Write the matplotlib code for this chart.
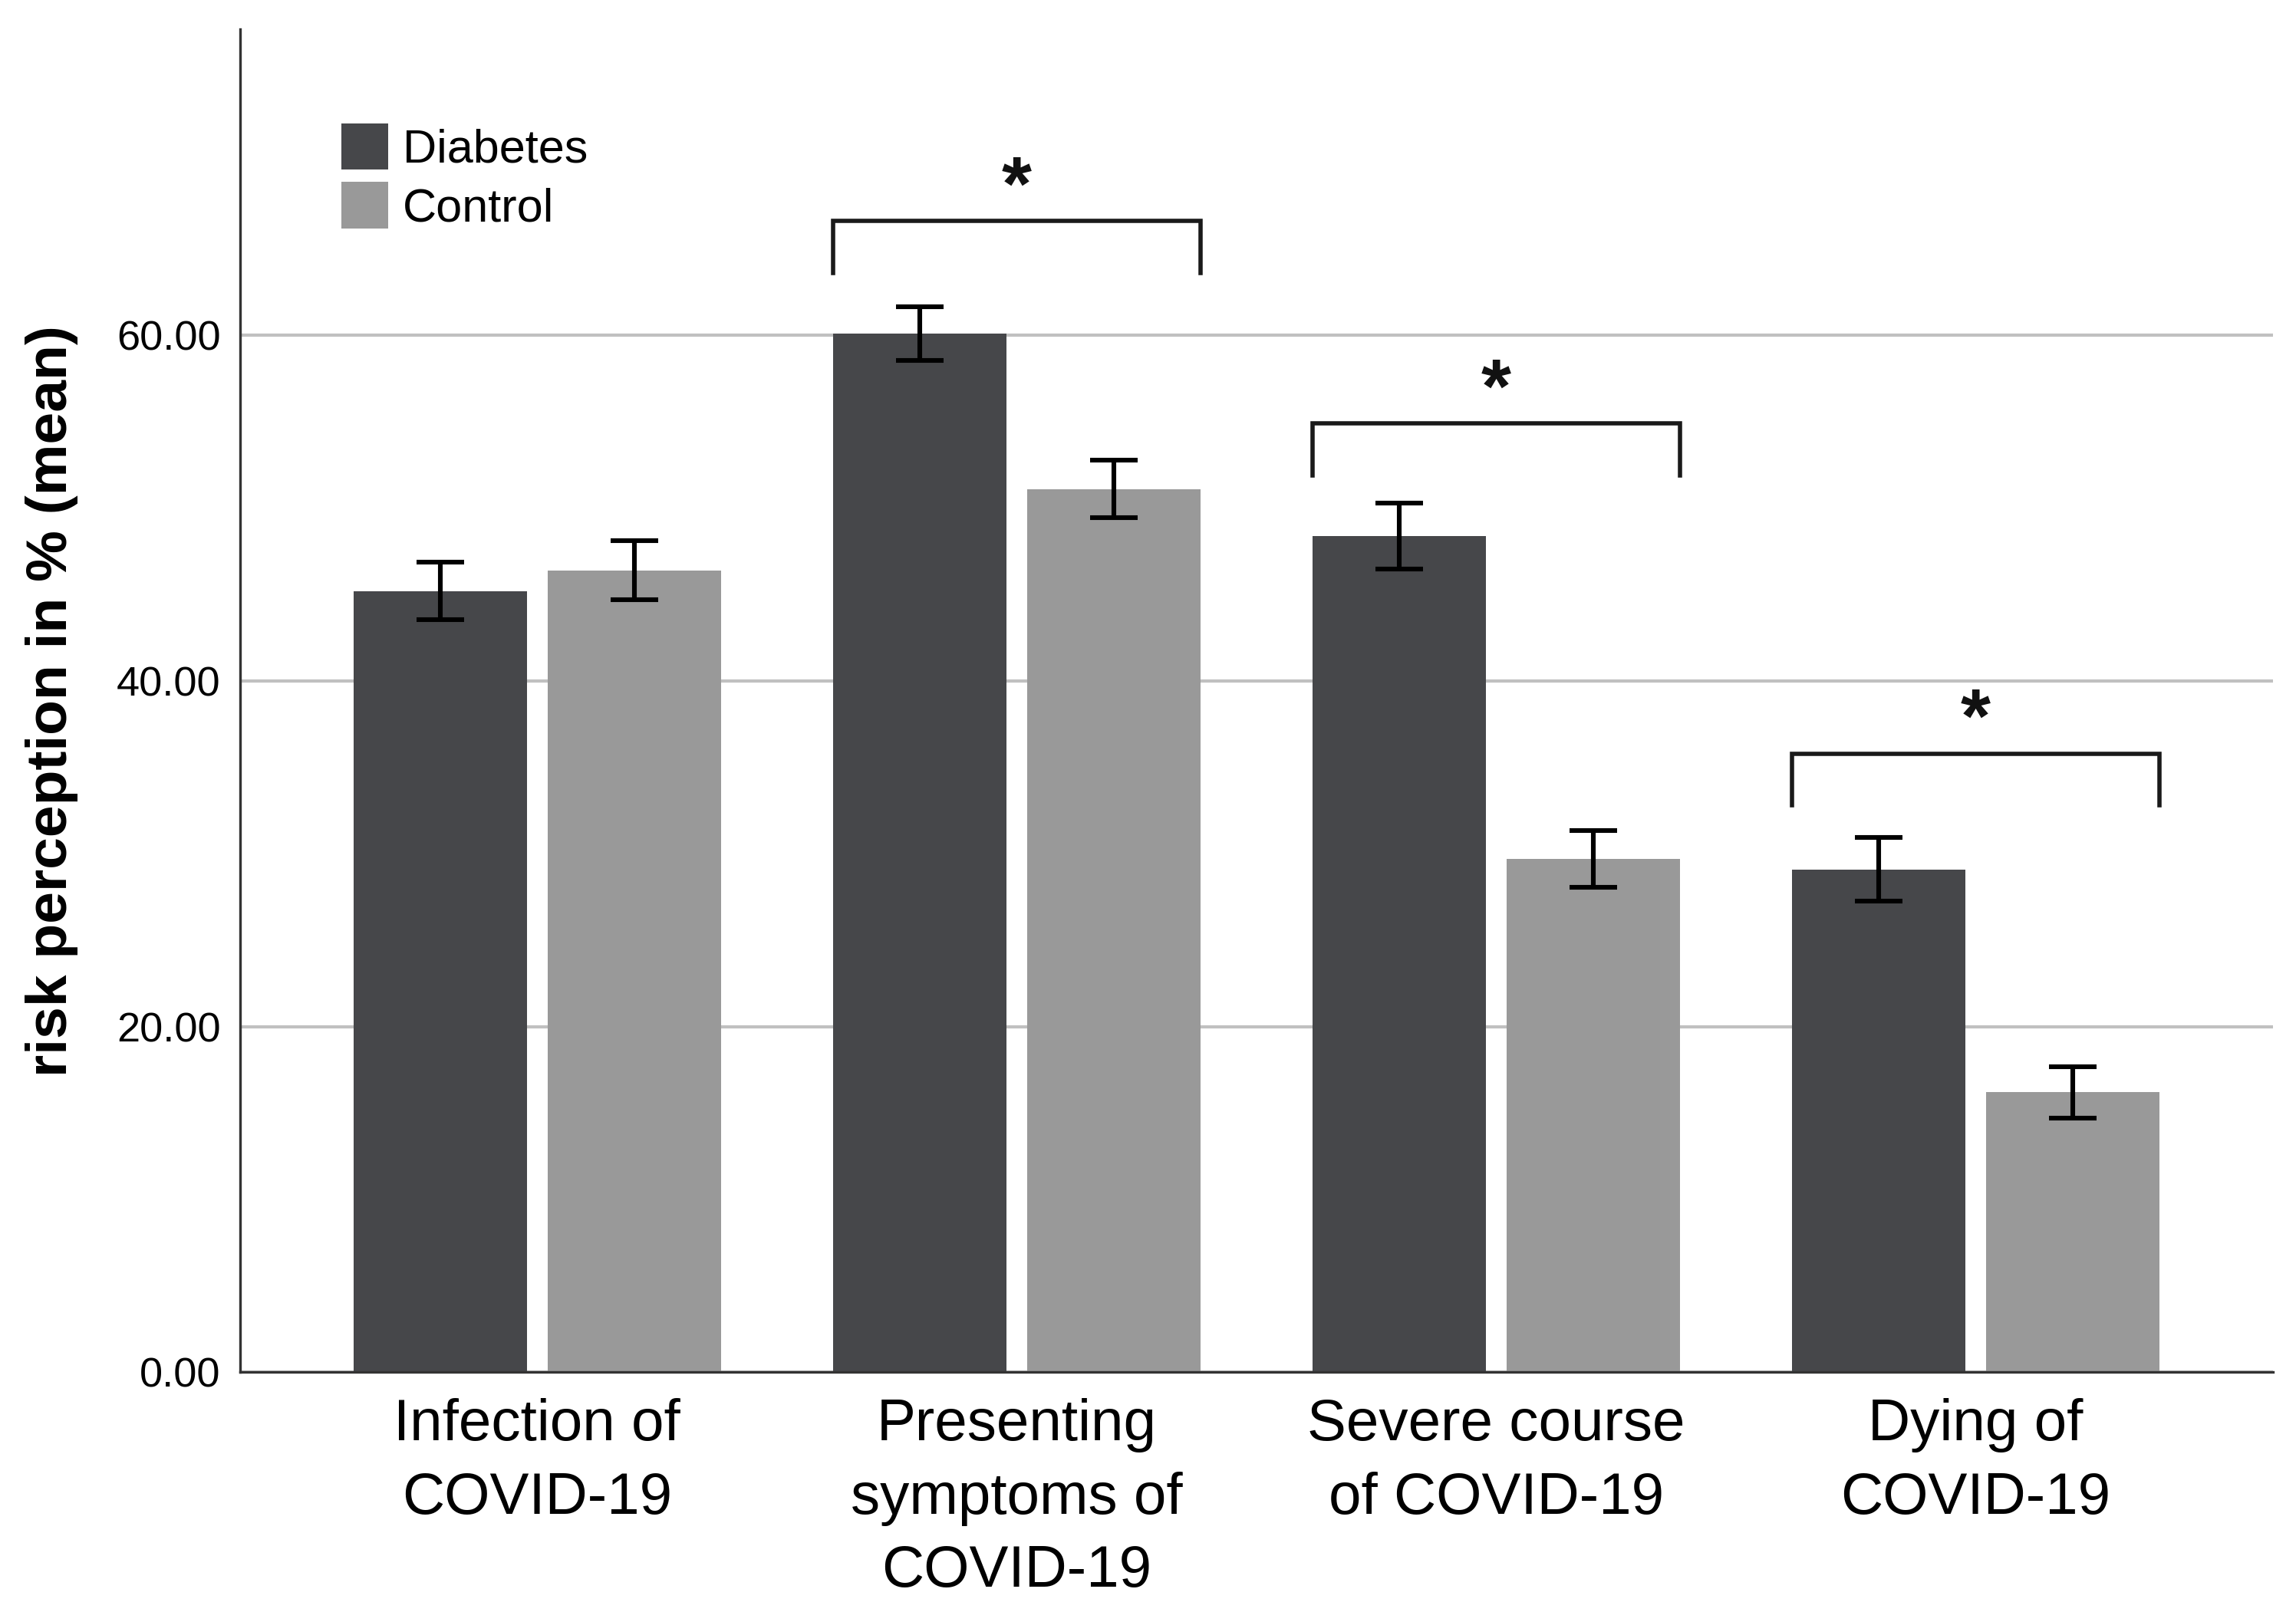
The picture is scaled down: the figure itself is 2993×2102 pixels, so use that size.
import matplotlib
matplotlib.use('Agg')
import matplotlib.pyplot as plt
import numpy as np

plt.rcParams['font.family'] = ['Liberation Sans', 'DejaVu Sans']

categories = ['Infection of\nCOVID-19', 'Presenting\nsymptoms of\nCOVID-19',
              'Severe course\nof COVID-19', 'Dying of\nCOVID-19']
diabetes_means = [45.2, 60.1, 48.4, 29.1]
control_means = [46.4, 51.1, 29.7, 16.2]
diabetes_err = [1.66, 1.57, 1.91, 1.83]
control_err = [1.70, 1.66, 1.66, 1.49]
yticks = [0, 20, 40, 60]

# significance brackets: group index, bracket top (mean %)
sig_groups = [1, 2, 3]
sig_tops = [66.6, 54.9, 35.8]

dark = '#46474a'
light = '#999999'

fig = plt.figure(figsize=(2993 / 200, 2102 / 200), dpi=200)
ax = fig.add_axes([0.1045, 0.1487, 0.8855, 0.8331])

x = np.arange(len(categories))
width = 0.362
off = 0.2025

ax.bar(x - off, diabetes_means, width, color=dark, label='Diabetes', zorder=2)
ax.bar(x + off, control_means, width, color=light, label='Control', zorder=2)
ax.errorbar(x - off, diabetes_means, yerr=diabetes_err, fmt='none', ecolor='black',
            elinewidth=2.2, capsize=11, capthick=2.2, zorder=3)
ax.errorbar(x + off, control_means, yerr=control_err, fmt='none', ecolor='black',
            elinewidth=2.2, capsize=11, capthick=2.2, zorder=3)

for g, top in zip(sig_groups, sig_tops):
    x0 = g - off - width / 2
    x1 = g + off + width / 2
    ax.plot([x0, x0, x1, x1], [top - 3.0, top, top, top - 3.0], color='#1a1a1a',
            lw=2.0, solid_joinstyle='miter', zorder=3)
    ax.text(g, top + 1.8, '*', ha='center', va='center', fontsize=36,
            fontweight='bold', color='#111111')

ax.set_xlim(-0.62, 3.62)
ax.set_ylim(0, 77.7)
ax.set_yticks(yticks)
ax.set_yticklabels([f'{v:.2f}' for v in yticks])
ax.yaxis.grid(True, color='#c0c0c0', lw=1.5, zorder=0)
ax.set_axisbelow(True)

ax.set_xticks(x)
ax.set_xticklabels(categories, fontsize=27.5, linespacing=1.45)
ax.tick_params(axis='x', length=0, pad=12)
ax.tick_params(axis='y', length=0, pad=9, labelsize=19.5)

for s in ['top', 'right']:
    ax.spines[s].set_visible(False)
for s in ['left', 'bottom']:
    ax.spines[s].set_color('#333333')
    ax.spines[s].set_linewidth(1.2)

ax.set_ylabel('risk perception in % (mean)', fontsize=27, fontweight='bold', labelpad=18)

ax.legend(loc='upper left', bbox_to_anchor=(0.05, 0.93), frameon=False, fontsize=22,
          handlelength=1.0, handleheight=1.15, handletextpad=0.3, labelspacing=0.2,
          borderpad=0, borderaxespad=0)

fig.savefig('out.png', dpi=200)
